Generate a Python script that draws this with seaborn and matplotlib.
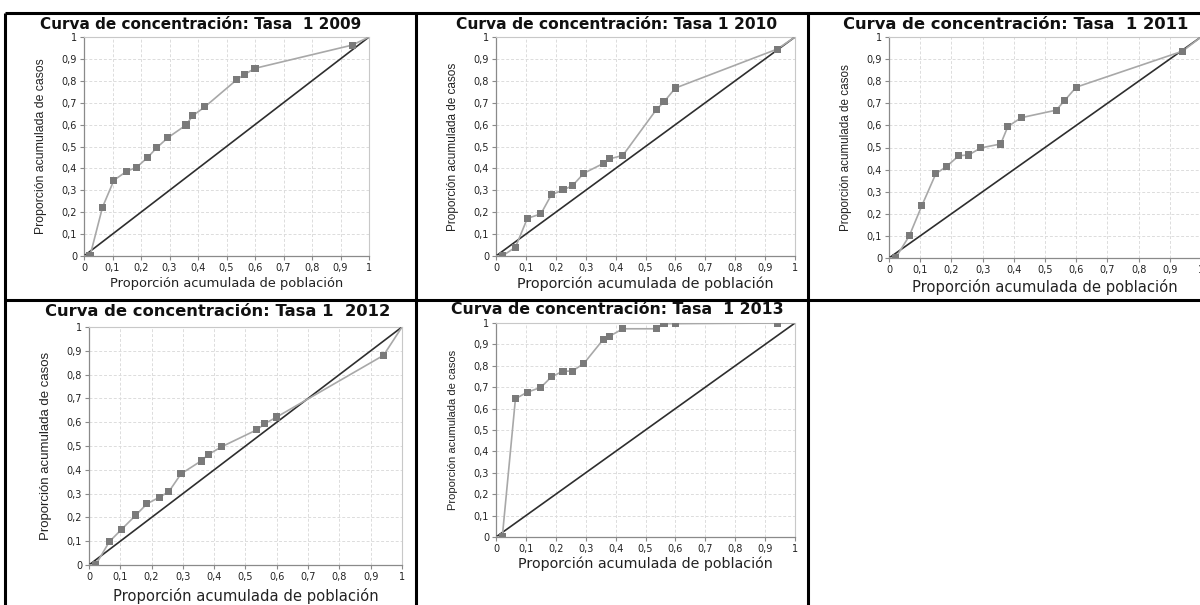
import matplotlib
matplotlib.use("Agg")
import matplotlib.pyplot as plt
from matplotlib import font_manager
from matplotlib.lines import Line2D
from matplotlib.ticker import FixedLocator, FixedFormatter
import seaborn as sns
import pandas as pd

# Proporción acumulada de población (common to every year)
poblacion = [0, 0.021, 0.065, 0.105, 0.150, 0.185, 0.224, 0.255, 0.294,
             0.358, 0.381, 0.424, 0.536, 0.562, 0.600, 0.941, 1.0]

# Proporción acumulada de casos, per year
casos_2009 = [0, 0, 0.223, 0.346, 0.387, 0.405, 0.451, 0.494, 0.540,
              0.598, 0.640, 0.681, 0.805, 0.828, 0.857, 0.963, 1.0]
casos_2010 = [0, 0, 0.040, 0.172, 0.192, 0.279, 0.302, 0.320, 0.378,
              0.422, 0.444, 0.459, 0.668, 0.704, 0.767, 0.945, 1.0]
casos_2011 = [0, 0, 0.100, 0.236, 0.381, 0.415, 0.463, 0.466, 0.498,
              0.516, 0.595, 0.635, 0.669, 0.711, 0.773, 0.936, 1.0]
casos_2012 = [0, 0, 0.098, 0.151, 0.210, 0.257, 0.284, 0.308, 0.383,
              0.437, 0.464, 0.497, 0.568, 0.594, 0.622, 0.881, 1.0]
casos_2013 = [0, 0, 0.646, 0.677, 0.699, 0.748, 0.775, 0.775, 0.811,
              0.922, 0.939, 0.973, 0.973, 0.997, 0.997, 1.0, 1.0]

titulos = ["Curva de concentración: Tasa  1 2009",
           "Curva de concentración: Tasa 1 2010",
           "Curva de concentración: Tasa  1 2011",
           "Curva de concentración: Tasa 1  2012",
           "Curva de concentración: Tasa  1 2013"]

ticks = [0, 0.1, 0.2, 0.3, 0.4, 0.5, 0.6, 0.7, 0.8, 0.9, 1]
tick_labels = ["0", "0,1", "0,2", "0,3", "0,4", "0,5", "0,6", "0,7", "0,8", "0,9", "1"]

xlabel = "Proporción acumulada de población"
ylabel = "Proporción acumulada de casos"

sns.set_theme(style="white")
plt.rcParams["font.family"] = ["Liberation Sans", "DejaVu Sans"]

installed = {f.name for f in font_manager.fontManager.ttflist}
if "Liberation Sans Narrow" in installed:
    ylab_family, ylab_scale = "Liberation Sans Narrow", 1.0
else:
    ylab_family, ylab_scale = "Liberation Sans", 0.82

W, H = 1200, 605
fig = plt.figure(figsize=(W / 100, H / 100), dpi=100)
fig.patch.set_facecolor("white")


def rect(x0, y0, x1, y1):
    return [x0 / W, 1 - y1 / H, (x1 - x0) / W, (y1 - y0) / H]


# per panel: axes box (px), title centre (px), title size, x-label size,
# x-label drop below the axes (px), y-label size
layout = [
    ((84, 37, 369, 256), (201, 24.5), 11.0, 9.4, 28, 10.8),
    ((496, 37, 795, 256), (617, 24.5), 11.2, 10.4, 28, 10.3),
    ((889, 37, 1201, 258), (1016, 24.5), 11.8, 10.6, 29, 10.2),
    ((89, 327, 402, 565), (218, 311), 11.8, 10.6, 31, 11.6),
    ((496, 323, 795, 537), (617, 309), 11.3, 10.3, 27, 9.8),
]

series = [casos_2009, casos_2010, casos_2011, casos_2012, casos_2013]

for (box, tpos, tsize, xsize, xdrop, ysize), casos, titulo in zip(layout, series, titulos):
    x0, y0, x1, y1 = box
    w_px, h_px = x1 - x0, y1 - y0
    ax = fig.add_axes(rect(*box))
    df = pd.DataFrame({"pob": poblacion, "casos": casos})
    diag = pd.DataFrame({"pob": [0, 1], "casos": [0, 1]})

    # equality line
    sns.lineplot(data=diag, x="pob", y="casos", ax=ax, color="#2e2e2e",
                 linewidth=1.2, zorder=3)
    # concentration curve
    sns.lineplot(data=df, x="pob", y="casos", ax=ax, color="#a8a8a8",
                 linewidth=1.2, zorder=4, sort=False)
    sns.scatterplot(data=df.iloc[1:-1], x="pob", y="casos", ax=ax, marker="s",
                    s=26, color="#7a7a7a", edgecolor="none", zorder=5)

    ax.set_xlim(0, 1)
    ax.set_ylim(0, 1)
    for a in (ax.xaxis, ax.yaxis):
        a.set_major_locator(FixedLocator(ticks))
        a.set_major_formatter(FixedFormatter(tick_labels))
    ax.grid(True, color="#dcdcdc", linestyle=(0, (3, 2)), linewidth=0.7)
    ax.set_axisbelow(True)
    for side in ("left", "bottom"):
        ax.spines[side].set_color("#8a8a8a")
        ax.spines[side].set_linewidth(0.9)
    for side in ("top", "right"):
        ax.spines[side].set_color("#c8c8c8")
        ax.spines[side].set_linewidth(0.8)
    ax.tick_params(axis="both", direction="out", length=3, width=0.8,
                   color="#8a8a8a", labelsize=7, labelcolor="#222222", pad=2,
                   bottom=True, left=True)
    for lab in ax.get_xticklabels() + ax.get_yticklabels():
        lab.set_family("DejaVu Sans")

    ax.set_xlabel(xlabel, fontsize=xsize, color="#222222",
                  family=["DejaVu Sans"])
    ax.xaxis.set_label_coords(0.5, -xdrop / h_px)
    ax.xaxis.label.set_va("center")

    ax.set_ylabel(ylabel, fontsize=ysize * ylab_scale, color="#222222",
                  family=[ylab_family, "DejaVu Sans"])
    ax.yaxis.set_label_coords(-43 / w_px, 0.5)
    ax.yaxis.label.set_va("center")

    fig.text(tpos[0] / W, 1 - tpos[1] / H, titulo, ha="center", va="center",
             fontsize=tsize, fontweight="bold", color="#111111",
             family=["DejaVu Sans"])

# table frame around the panels
frame = dict(color="black", linewidth=2.2, transform=fig.transFigure,
             solid_capstyle="butt")
for (xa, ya, xb, yb) in [(5, 13, 1200, 13), (5, 300, 1200, 300),
                         (5, 13, 5, 605), (416, 13, 416, 605),
                         (808, 13, 808, 605)]:
    fig.add_artist(Line2D([xa / W, xb / W], [1 - ya / H, 1 - yb / H], **frame))

fig.savefig("out.png", dpi=100, facecolor="white")
